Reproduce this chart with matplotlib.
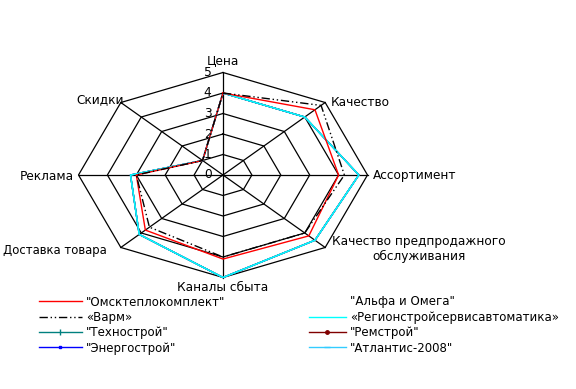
import numpy as np
import matplotlib
matplotlib.use("Agg")
import matplotlib.pyplot as plt
from matplotlib.lines import Line2D

plt.rcParams['font.family'] = ['DejaVu Sans']

categories = ['Цена', 'Качество', 'Ассортимент',
              'Качество предпродажного\nобслуживания', 'Каналы сбыта',
              'Доставка товара', 'Реклама', 'Скидки']
levels = [0, 1, 2, 3, 4, 5]

series_names = ['"Омсктеплокомплект"', '«Варм»', '"Техностро' + 'й"', '"Энергострой"',
                '"Альфа и Омега"', '«Регионстройсервисавтоматика»', '"Ремстрой"', '"Атлантис-2008"']

omsk = [4.0, 4.5, 4.0, 4.2, 4.1, 3.8, 3.0, 1.0]
varm = [4.0, 4.8, 4.2, 4.0, 4.0, 3.6, 3.0, 1.0]
tekhnostroy = [4.0, 4.0, 4.7, 4.5, 5.0, 4.1, 3.2, 1.0]
energostroy = [4.0, 4.0, 4.7, 4.5, 5.0, 4.1, 3.2, 1.0]
alfa_omega = [4.0, 4.0, 4.7, 4.5, 5.0, 4.1, 3.2, 1.0]
region = [4.0, 4.0, 4.7, 4.5, 5.0, 4.1, 3.2, 1.0]
remstroy = [4.0, 4.0, 4.7, 4.5, 5.0, 4.1, 3.2, 1.0]
atlantis = [4.0, 4.0, 4.7, 4.5, 5.0, 4.1, 3.2, 1.0]

W, H = 576, 389
cx, cy = 223, 175          # centre in pixels
sx, sy = 28.9, 20.5        # pixels per unit (horizontally stretched radar)

fig = plt.figure(figsize=(W / 100, H / 100), dpi=100)
ax = fig.add_axes([0, 0, 1, 1])
ax.set_xlim(-cx / sx, (W - cx) / sx)
ax.set_ylim(-(H - cy) / sy, cy / sy)
ax.axis('off')

n = len(categories)
ang = np.arange(n) * 2 * np.pi / n


def xy(vals):
    v = np.asarray(vals, dtype=float)
    x = v * np.sin(ang)
    y = v * np.cos(ang)
    return np.append(x, x[0]), np.append(y, y[0])


# grid
for lv in levels[1:]:
    gx, gy = xy([lv] * n)
    ax.plot(gx, gy, color='black', lw=0.9, zorder=1)
for a in ang:
    ax.plot([0, 5 * np.sin(a)], [0, 5 * np.cos(a)], color='black', lw=0.9, zorder=1)

# tick labels on the Цена axis
for lv in levels:
    ax.annotate(str(lv), xy=(0, lv), xytext=(-11, 0), textcoords='offset points',
                ha='center', va='center', fontsize=8.8, color='black')

# category labels
offsets = [(0, 4, 'center', 'bottom'), (4, 0, 'left', 'center'), (4, 0, 'left', 'center'),
           (5, -1, 'left', 'center'), (0, -2.5, 'center', 'top'), (-10, -2, 'right', 'center'),
           (-3, -1, 'right', 'center'), (2, 2, 'right', 'center')]
sizes = [8.7, 8.7, 8.7, 8.7, 8.7, 8.4, 8.7, 8.7]
for a, lab, (ox, oy, ha, va), fs in zip(ang, categories, offsets, sizes):
    ax.annotate(lab, xy=(5 * np.sin(a), 5 * np.cos(a)), xytext=(ox, oy),
                textcoords='offset points', ha=ha, va=va, fontsize=fs,
                multialignment='center')

styles = [
    dict(color='#ff0000', lw=1.0, ls='-'),
    dict(color='black', lw=1.0, ls=(0, (6, 2, 1, 2, 1, 2))),
    dict(color='#00807f', lw=1.0, ls='-', marker='|', ms=4),
    dict(color='#0000ff', lw=1.0, ls='-', marker='s', ms=2),
    dict(color='white', lw=1.0, ls='-'),
    dict(color='#00ffff', lw=1.0, ls='-'),
    dict(color='#800000', lw=1.0, ls='-', marker='o', ms=2.5),
    dict(color='#33ccff', lw=1.0, ls='-', marker='_', ms=4),
]
data = [omsk, varm, tekhnostroy, energostroy, alfa_omega, region, remstroy, atlantis]
order_z = [6, 7, 2, 2, 0.5, 5, 2, 3]

for vals, st, z in zip(data, styles, order_z):
    px, py = xy(vals)
    kw = {k: v for k, v in st.items() if k not in ('marker', 'ms')}
    ax.plot(px, py, zorder=z, **kw)

handles = []
for st in styles:
    handles.append(Line2D([], [], **st))

leg_kw = dict(frameon=False, fontsize=8.5, borderpad=0, handlelength=3.6,
              handletextpad=0.35, labelspacing=0.2, borderaxespad=0)
leg1 = fig.legend(handles[:4], series_names[:4], loc='upper left',
                  bbox_to_anchor=(39 / W, 1 - 295.5 / H), **leg_kw)
leg2 = fig.legend(handles[4:], series_names[4:], loc='upper left',
                  bbox_to_anchor=(309 / W, 1 - 295.5 / H), **dict(leg_kw, handlelength=3.1))

fig.savefig('out.png', dpi=100)
